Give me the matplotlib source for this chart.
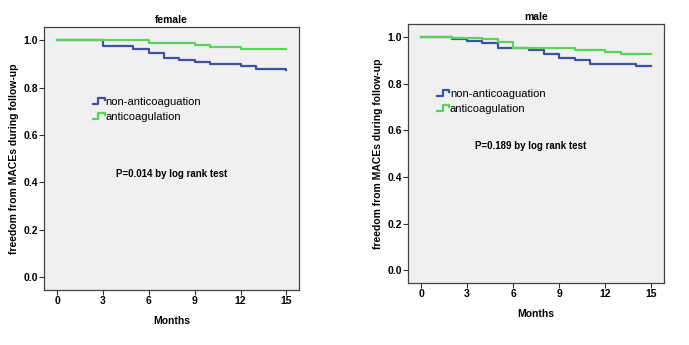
import numpy as np
import matplotlib
matplotlib.use("Agg")
import matplotlib.pyplot as plt
from matplotlib.lines import Line2D
from matplotlib.legend_handler import HandlerBase

# step survival curves (month of each step, value after it)
female_non_t = [0, 3, 5, 6, 7, 8, 9, 10, 12, 13, 15]
female_non_s = [1.0, 0.975, 0.963, 0.945, 0.927, 0.915, 0.907, 0.899, 0.890, 0.880, 0.876]
female_anti_t = [0, 6, 9, 10, 12, 15]
female_anti_s = [1.0, 0.990, 0.982, 0.973, 0.963, 0.963]

male_non_t = [0, 2, 3, 4, 5, 7, 8, 9, 10, 11, 14, 15]
male_non_s = [1.0, 0.993, 0.983, 0.974, 0.951, 0.943, 0.927, 0.910, 0.901, 0.886, 0.876, 0.876]
male_anti_t = [0, 2, 4, 5, 6, 10, 12, 13, 15]
male_anti_s = [1.0, 0.998, 0.991, 0.977, 0.951, 0.943, 0.934, 0.927, 0.927]

labels = ["non-anticoaguation", "anticoagulation"]
titles = ["female", "male"]
p_texts = ["P=0.014 by log rank test", "P=0.189 by log rank test"]

BLUE = "#3f51a3"
GREEN = "#5bd35b"

plt.rcParams["font.family"] = ["Liberation Sans", "DejaVu Sans"]


class StepHandler(HandlerBase):
    def create_artists(self, legend, orig_handle, xdescent, ydescent,
                       width, height, fontsize, trans):
        x0 = -xdescent
        y0 = -ydescent
        xs = [x0, x0 + 0.45 * width, x0 + 0.45 * width, x0 + width, x0 + width]
        ys = [y0 + 0.15 * height, y0 + 0.15 * height, y0 + 0.95 * height,
              y0 + 0.95 * height, y0 + 0.7 * height]
        ln = Line2D(xs, ys, color=orig_handle.get_color(), lw=1.6, transform=trans)
        return [ln]


fig = plt.figure(figsize=(6.89, 3.45), dpi=100)
W, H = 689, 345
# axes boxes in pixels: left, top, right, bottom
boxes = [(44, 27, 299, 290), (408, 24, 664, 283)]
panels = [
    (female_non_t, female_non_s, female_anti_t, female_anti_s),
    (male_non_t, male_non_s, male_anti_t, male_anti_s),
]
p_pos = [(3.85, 0.435), (3.5, 0.532)]
leg_pos = [(2.35, 0.706), (1.04, 0.722)]

for i in range(2):
    l, t, r, b = boxes[i]
    ax = fig.add_axes([l / W, 1 - b / H, (r - l) / W, (b - t) / H])
    ax.set_facecolor("#f0f0f0")
    nt, ns, at, as_ = panels[i]
    h1, = ax.step(nt, ns, where="post", color=BLUE, lw=1.6)
    h2, = ax.step(at, as_, where="post", color=GREEN, lw=1.6)
    ax.set_xlim(-0.85, 15.82)
    ax.set_ylim(-0.055, 1.056)
    ax.set_xticks([0, 3, 6, 9, 12, 15])
    ax.set_yticks([0.0, 0.2, 0.4, 0.6, 0.8, 1.0])
    ax.set_yticklabels(["0.0", "0.2", "0.4", "0.6", "0.8", "1.0"])
    for lab in ax.get_xticklabels() + ax.get_yticklabels():
        lab.set_fontweight("bold")
        lab.set_fontsize(7.5)
    ax.tick_params(direction="out", length=3.5, width=0.8, color="#333333", pad=1)
    for sp in ax.spines.values():
        sp.set_color("#444444")
        sp.set_linewidth(0.9)
    ax.set_title(titles[i], fontsize=7.5, fontweight="bold", pad=3)
    ax.set_xlabel("Months", fontsize=7.5, fontweight="bold", labelpad=7)
    ax.set_ylabel("freedom from MACEs during follow-up", fontsize=7.5,
                  fontweight="bold", labelpad=3)
    ax.text(p_pos[i][0], p_pos[i][1], p_texts[i], fontsize=7, fontweight="bold",
            va="center", ha="left")
    ax.legend([h1, h2], labels, handler_map={Line2D: StepHandler()},
              frameon=False, loc="center left", bbox_to_anchor=leg_pos[i],
              bbox_transform=ax.transData, fontsize=8, handlelength=1.1,
              handletextpad=0.05, labelspacing=0.45, borderaxespad=0,
              borderpad=0)

fig.savefig("out.png", dpi=100)
